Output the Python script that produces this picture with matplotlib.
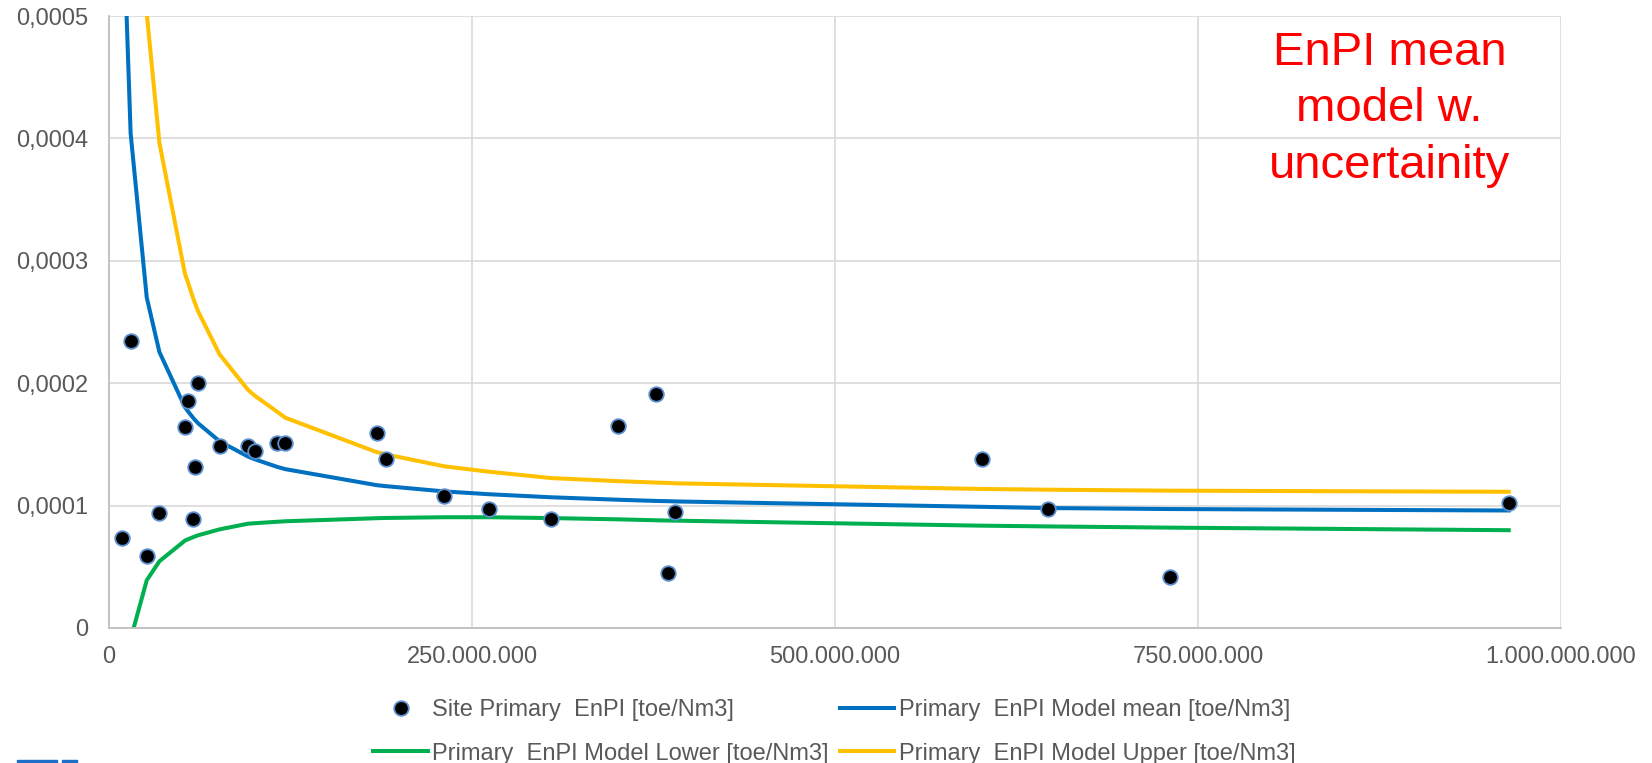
import numpy as np
import matplotlib
matplotlib.use('Agg')
import matplotlib.pyplot as plt
from matplotlib.patches import Rectangle

plt.rcParams['font.family'] = ['Liberation Sans', 'DejaVu Sans']

# energy use per site [Nm3]
site_x = np.array([9.0, 14.9, 26.0, 34.7, 52.3, 54.2, 58.1, 59.2, 61.5, 76.2,
                   95.7, 100.3, 115.9, 121.4, 184.3, 190.5, 230.9, 261.4, 304.4,
                   350.3, 377.0, 385.0, 390.0, 600.9, 646.4, 730.4, 964.0]) * 1e6
# site primary EnPI [toe/Nm3]
site_y = np.array([0.733, 2.342, 0.588, 0.937, 1.645, 1.852, 0.888, 1.315, 2.004,
                   1.487, 1.489, 1.446, 1.514, 1.509, 1.590, 1.383, 1.080, 0.975,
                   0.893, 1.650, 1.909, 0.449, 0.948, 1.383, 0.975, 0.413, 1.022]) * 1e-4

# model evaluated at the same sites
model_x = site_x
model_mean = np.array([6.08, 4.04, 2.70, 2.255, 1.804, 1.773, 1.715, 1.70, 1.671,
                       1.525, 1.401, 1.379, 1.316, 1.298, 1.167, 1.159, 1.116, 1.093,
                       1.068, 1.048, 1.038, 1.036, 1.034, 0.990, 0.980, 0.972, 0.960]) * 1e-4
model_upper = np.array([12.98, 8.16, 5.02, 3.965, 2.894, 2.83, 2.69, 2.655, 2.584,
                        2.235, 1.946, 1.899, 1.766, 1.718, 1.437, 1.419, 1.321, 1.277,
                        1.225, 1.200, 1.188, 1.185, 1.182, 1.136, 1.130, 1.122, 1.113]) * 1e-4
model_lower = np.array([-0.82, -0.09, 0.39, 0.545, 0.714, 0.724, 0.743, 0.748, 0.758,
                        0.806, 0.852, 0.856, 0.868, 0.872, 0.897, 0.899, 0.905, 0.905,
                        0.898, 0.888, 0.880, 0.878, 0.877, 0.836, 0.830, 0.820, 0.799]) * 1e-4

x_ticks = [0, 250e6, 500e6, 750e6, 1000e6]
x_tick_labels = ['0', '250.000.000', '500.000.000', '750.000.000', '1.000.000.000']
y_ticks = [0, 1e-4, 2e-4, 3e-4, 4e-4, 5e-4]
y_tick_labels = ['0', '0,0001', '0,0002', '0,0003', '0,0004', '0,0005']

label_site = 'Site Primary  EnPI [toe/Nm3]'
label_mean = 'Primary  EnPI Model mean [toe/Nm3]'
label_lower = 'Primary  EnPI Model Lower [toe/Nm3]'
label_upper = 'Primary  EnPI Model Upper [toe/Nm3]'

fig = plt.figure(figsize=(16.52, 7.63), dpi=100)
ax = fig.add_axes([109/1652, 1-628/763, 1452/1652, 612/763])

h_mean, = ax.plot(model_x, model_mean, color='#0070C0', lw=2.9, label=label_mean, zorder=2)
h_lower, = ax.plot(model_x, model_lower, color='#00B050', lw=2.9, label=label_lower, zorder=2)
h_upper, = ax.plot(model_x, model_upper, color='#FFC000', lw=2.9, label=label_upper, zorder=2)
h_site, = ax.plot(site_x, site_y, linestyle='none', marker='o', markersize=10.5,
                  markerfacecolor='black', markeredgecolor='#5B8FD0', markeredgewidth=1.3,
                  label=label_site, zorder=3)

ax.set_xlim(0, 1e9)
ax.set_ylim(0, 5e-4)
ax.set_xticks(x_ticks)
ax.set_xticklabels(x_tick_labels)
ax.set_yticks(y_ticks)
ax.set_yticklabels(y_tick_labels)
ax.tick_params(axis='both', length=0, labelsize=17, labelcolor='#595959')
ax.tick_params(axis='x', pad=13)
ax.tick_params(axis='y', pad=15)

ax.grid(True, color='#D9D9D9', lw=1.2, zorder=0)
ax.set_axisbelow(True)
for s in ['top', 'right']:
    ax.spines[s].set_visible(False)
for s in ['left', 'bottom']:
    ax.spines[s].set_color('#BFBFBF')
    ax.spines[s].set_linewidth(1.3)

ax.text(0.841, 0.960, 'EnPI mean\nmodel w.\nuncertainity', transform=fig.transFigure,
        ha='center', va='top', color='#FF0000', fontsize=34, linespacing=1.37)

fig.legend([h_site, h_lower, h_mean, h_upper],
           [label_site, label_lower, label_mean, label_upper],
           ncol=2, loc='center', bbox_to_anchor=(0.505, 0.041), frameon=False,
           fontsize=17, handlelength=2.3, handletextpad=0.2, columnspacing=0.45,
           labelspacing=0.92, labelcolor='#595959', borderpad=0)

# cut-off logo at the bottom left
fig.add_artist(Rectangle((17/1652, 0), 40/1652, 3/763, transform=fig.transFigure,
                         color='#1E6FC8'))
fig.add_artist(Rectangle((62/1652, 0), 15/1652, 3/763, transform=fig.transFigure,
                         color='#1E6FC8'))

fig.savefig('out.png', dpi=100)
